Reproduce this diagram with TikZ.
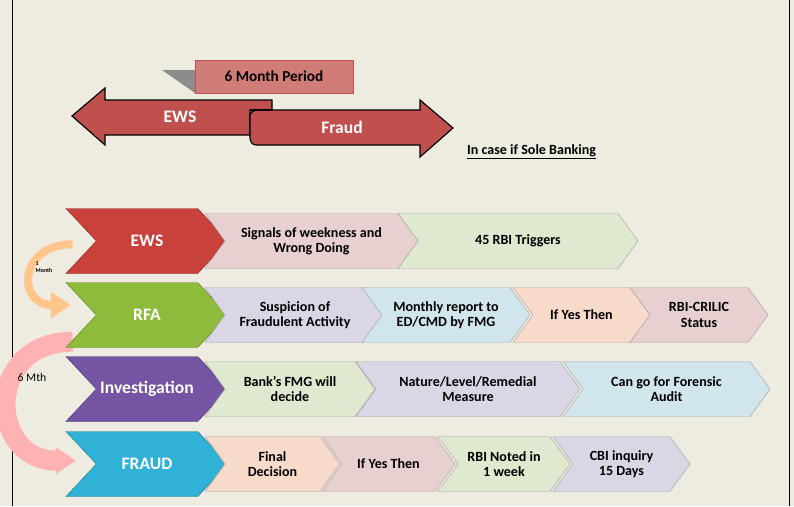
\documentclass[tikz,border=0pt]{standalone}
\usepackage{fontspec}
\setmainfont{Carlito}
\usetikzlibrary{shapes.symbols,arrows.meta,backgrounds}
\definecolor{bg}{HTML}{EEECE1}
\definecolor{ewsred}{HTML}{C9413B}
\definecolor{rfagreen}{HTML}{8DBB3C}
\definecolor{invpurple}{HTML}{7454A3}
\definecolor{fraudblue}{HTML}{2FB2D6}
\definecolor{cpink}{HTML}{E8D0D0}
\definecolor{cgreen}{HTML}{DFE9CF}
\definecolor{clav}{HTML}{DAD6E6}
\definecolor{cblue}{HTML}{D0E5EC}
\definecolor{cpeach}{HTML}{F8DACA}
\definecolor{ribbon}{HTML}{C0504D}
\begin{document}
\begin{tikzpicture}[
        x=0.03cm, y=-0.03cm,
        font=\bfseries\fontsize{12}{13}\selectfont,
        stage/.style={
            signal, signal from=west, signal to=east, signal pointer angle=94,
            draw=#1!70!black, fill=#1, text=white, inner sep=0pt,
            minimum width=4.86cm, minimum height=1.95cm,
            font=\bfseries\fontsize{15}{17}\selectfont
        },
        step/.style={
            signal, signal from=west, signal to=east, signal pointer angle=108,
            draw=black!35, fill=#1, inner sep=0pt, align=center,
            minimum height=1.65cm
        },
        curl/.style={line width=#1, -{Triangle[length=0.6cm,width=0.75cm]}}
    ]
        \useasboundingbox (0,0) rectangle (794,506);

        % period banner
        \fill[black!45] (162,70) -- (195,70) -- (195,93) -- cycle;
        \node[draw=ribbon, fill=ribbon!75, minimum width=4.74cm, minimum height=0.99cm,
            inner sep=0pt, font=\bfseries\fontsize{13}{14}\selectfont] (period) at (274,76.5) {6 Month Period};

        % EWS / Fraud ribbon
        \draw[fill=ribbon, line width=1pt] (72,116) -- (105,88) -- (105,100) -- (272,100)
            -- (272,110) -- (250,110) -- (250,135) -- (105,135) -- (105,145) -- cycle;
        \draw[fill=ribbon, line width=1pt] (250,110) -- (420,110) -- (420,100) -- (453,128)
            -- (420,157) -- (420,145) -- (256,145) to[out=180,in=-90] (250,138)
            -- (250,116) to[out=90,in=180] (258,110);
        \draw[line width=1pt] (250,116) to[out=90,in=180] (257,110) -- (272,110);
        \node[text=white, font=\bfseries\fontsize{15}{17}\selectfont] (ewslbl) at (180,117) {EWS};
        \node[text=white, font=\bfseries\fontsize{15}{17}\selectfont] (fraudlbl) at (342,127) {Fraud};
        \node[anchor=west] (sole) at (463,152) {\underline{In case if Sole Banking}};

        % stages
        \node[stage=ewsred] (ews) at (147,241) {EWS};
        \node[stage=rfagreen] (rfa) at (147,315) {RFA};
        \node[stage=invpurple] (inv) at (147,389) {Investigation};
        \node[stage=fraudblue] (fraud) at (147,464) {FRAUD};

        % EWS row
        \node[step=cpink, minimum width=6.39cm] (sig) at (311.5,241) {Signals of weekness and\\Wrong Doing};
        \node[step=cgreen, minimum width=7.2cm] (trig) at (518,241) {45 RBI Triggers};

        % RFA row
        \node[step=clav, minimum width=5.4cm] (susp) at (295,315) {Suspicion of\\Fraudulent Activity};
        \node[step=cblue, minimum width=5.04cm] (month) at (446,315) {Monthly report to\\ED/CMD by FMG};
        \node[step=cpeach, minimum width=4.11cm] (yes1) at (581.5,315) {If Yes Then};
        \node[step=cpink, minimum width=4.14cm] (crilic) at (699,315) {RBI-CRILIC\\Status};

        % Investigation row
        \node[step=cgreen, minimum width=5.1cm] (fmg) at (290,389) {Bank's FMG will\\decide};
        \node[step=clav, minimum width=6.72cm] (nature) at (468,389) {Nature/Level/Remedial\\Measure};
        \node[step=cblue, minimum width=6.21cm] (forensic) at (666.5,389) {Can go for Forensic\\Audit};

        % FRAUD row
        \node[step=cpeach, minimum width=4.05cm] (final) at (272.5,464) {Final\\Decision};
        \node[step=cpink, minimum width=3.99cm] (yes2) at (388.5,464) {If Yes Then};
        \node[step=cgreen, minimum width=3.96cm] (noted) at (504,464) {RBI Noted in\\1 week};
        \node[step=clav, minimum width=4.11cm] (cbi) at (621.5,464) {CBI inquiry\\15 Days};

        % background, frame and time spans
        \begin{scope}[on background layer]
            \fill[bg] (0,0) rectangle (794,506);
            \draw[thick] (12,0) -- (12,506);
            \draw[thick] (789,0) -- (789,506);
            \draw[curl=0.24cm, orange!45] ([xshift=-0.7cm,yshift=-0.1cm]ews.west) to[out=180,in=180,looseness=2.3] ([xshift=-0.75cm,yshift=0.3cm]rfa.west);
            \draw[curl=0.6cm, red!30] ([xshift=-0.7cm,yshift=-0.8cm]rfa.west) to[out=180,in=180,looseness=1.9] ([xshift=-0.6cm,yshift=0.1cm]fraud.west);
        \end{scope}

        % span labels
        \node[font=\bfseries\fontsize{5}{6}\selectfont, align=left] (onem) at (44,267) {1\\Month};
        \node[font=\fontsize{10}{11}\selectfont] (sixm) at (32,377) {6 Mth};
\end{tikzpicture}
\end{document}
